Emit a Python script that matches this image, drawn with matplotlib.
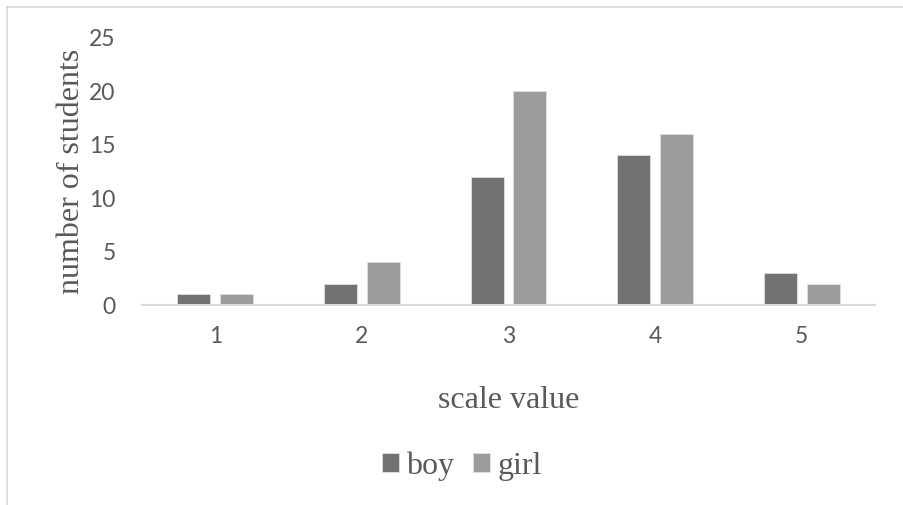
import matplotlib
matplotlib.use('Agg')
import matplotlib.pyplot as plt
import numpy as np
from matplotlib.lines import Line2D

# Datos: número de estudiantes por valor de escala
scale = [1, 2, 3, 4, 5]
boy = [1, 2, 12, 14, 3]
girl = [1, 4, 20, 16, 2]

fig = plt.figure(figsize=(9.04, 5.05), dpi=100)
ax = fig.add_axes([0.157, 0.396, 0.811, 0.529])

x = np.arange(len(scale)) + 1
w = 0.225
ax.bar(x - 0.145, boy, w, color='#727272', edgecolor='#e0e0e0', linewidth=0.6, label='boy')
ax.bar(x + 0.145, girl, w, color='#9c9c9c', edgecolor='#e0e0e0', linewidth=0.6, label='girl')

ax.set_xlim(0.5, 5.5)
ax.set_ylim(0, 25)
ax.set_yticks(range(0, 26, 5))
ax.set_xticks(x)
ax.set_xticklabels([str(s) for s in scale])

for s in ['top', 'right', 'left']:
    ax.spines[s].set_visible(False)
ax.spines['bottom'].set_color('#d9d9d9')
ax.spines['bottom'].set_linewidth(1.5)
ax.tick_params(length=0, labelsize=16.5, labelcolor='#595959')
ax.tick_params(axis='x', pad=15)
ax.tick_params(axis='y', pad=19)
for lab in ax.get_xticklabels() + ax.get_yticklabels():
    lab.set_family('Lato')

ax.set_ylabel('number of students', family='Liberation Serif', fontsize=23, color='#595959', labelpad=2)
ax.set_xlabel('scale value', family='Liberation Serif', fontsize=23, color='#595959', labelpad=28)

leg = ax.legend(loc='center', bbox_to_anchor=(462 / 904, 1 - 466 / 505), bbox_transform=fig.transFigure,
                ncol=2, frameon=False, handlelength=0.53, handleheight=0.53, handletextpad=0.22,
                columnspacing=0.6, prop={'family': 'Liberation Serif', 'size': 23})
for t in leg.get_texts():
    t.set_color('#595959')

# Borde del área del gráfico
fig.add_artist(Line2D([7 / 904, 1], [1 - 7 / 505, 1 - 7 / 505], color='#d9d9d9', lw=1.2))
fig.add_artist(Line2D([7 / 904, 7 / 904], [0, 1 - 7 / 505], color='#d9d9d9', lw=1.2))

fig.savefig('out.png', dpi=100)
